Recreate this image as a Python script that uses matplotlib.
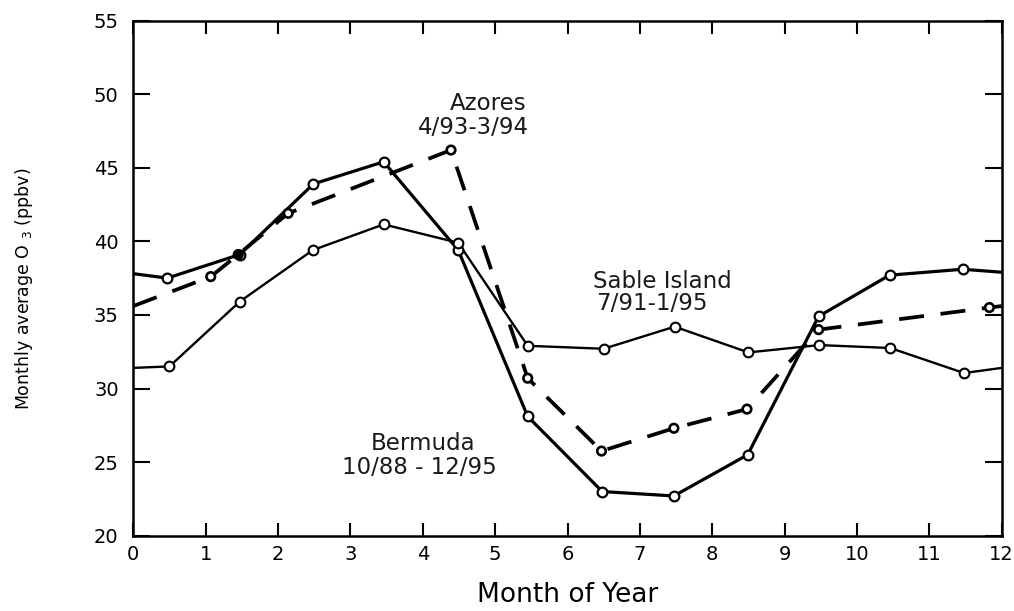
import matplotlib
matplotlib.use("Agg")
import matplotlib.pyplot as plt

plt.rcParams['font.family'] = ['DejaVu Sans']
plt.rcParams['mathtext.fontset'] = 'dejavusans'
plt.rcParams['lines.scale_dashes'] = False

# ---- data ----
bermuda_x = [0, 0.47, 1.47, 2.49, 3.46, 4.49, 5.45, 6.48, 7.47, 8.49, 9.47, 10.45, 11.46, 12]
bermuda_y = [37.8, 37.5, 39.1, 43.9, 45.4, 39.4, 28.1, 23.0, 22.7, 25.5, 34.9, 37.7, 38.1, 37.9]

sable_x = [0, 0.5, 1.47, 2.48, 3.46, 4.49, 5.45, 6.5, 7.48, 8.5, 9.48, 10.46, 11.48, 12]
sable_y = [31.4, 31.5, 35.9, 39.4, 41.15, 39.9, 32.9, 32.7, 34.2, 32.45, 32.95, 32.75, 31.05, 31.4]

azores_x = [0, 1.07, 1.45, 2.14, 4.39, 5.45, 6.47, 7.47, 8.48, 9.47, 11.83, 12]
azores_y = [35.6, 37.6, 39.1, 41.9, 46.2, 30.7, 25.75, 27.3, 28.6, 34.0, 35.5, 35.6]
azores_filled = [False, False, True, False, False, False, False, False, False, False, False, False]

x_ticks = list(range(0, 13))
y_ticks = [20, 25, 30, 35, 40, 45, 50, 55]

labels = [
    ("Azores", 488, 104),
    ("4/93-3/94", 473, 127),
    ("Sable Island", 662, 282),
    ("7/91-1/95", 652, 304),
    ("Bermuda", 423, 444),
    ("10/88 - 12/95", 419, 467),
]

W, H = 1014, 611
fig = plt.figure(figsize=(W / 100, H / 100), dpi=100)
L, R, T, B = 133.3, 1001.7, 20.5, 535.7
ax = fig.add_axes([L / W, 1 - B / H, (R - L) / W, (B - T) / H])

# lines
ax.plot(bermuda_x, bermuda_y, color='black', lw=2.3, zorder=2, solid_joinstyle='round')
ax.plot(sable_x, sable_y, color='black', lw=1.7, zorder=2, solid_joinstyle='round')
ax.plot(azores_x, azores_y, color='black', lw=2.7, zorder=2, dashes=(18, 12))

# markers (interior points only)
ax.plot(bermuda_x[1:-1], bermuda_y[1:-1], ls='none', marker='o', ms=7,
        mfc='white', mec='black', mew=1.6, zorder=4)
ax.plot(sable_x[1:-1], sable_y[1:-1], ls='none', marker='o', ms=7,
        mfc='white', mec='black', mew=1.5, zorder=4)
afc = ['black' if f else 'white' for f in azores_filled]
ax.scatter(azores_x[1:-1], azores_y[1:-1], s=38, marker='o', facecolors=afc[1:-1],
           edgecolors='black', linewidths=1.9, zorder=5)

ax.set_xlim(0, 12)
ax.set_ylim(20, 55)
ax.set_xticks(x_ticks)
ax.set_yticks(y_ticks)
ax.tick_params(axis='both', which='major', direction='in', top=True, right=True,
               width=1.5, labelsize=14, colors='black')
ax.tick_params(axis='y', length=12, pad=10.5)
ax.tick_params(axis='x', length=9.5, pad=7)
for s in ax.spines.values():
    s.set_linewidth(1.8)

ax.set_xlabel("Month of Year", fontsize=19)
ax.xaxis.set_label_coords(0.5, (B - 595) / (B - T))
ax.xaxis.label.set_va('center')
ax.set_ylabel(r"Monthly average O $_{3}$ (ppbv)", fontsize=12.5)
ax.yaxis.set_label_coords((24 - L) / (R - L), 0.48)
ax.yaxis.label.set_va('center')

for txt, px, py in labels:
    ax.text((px - L) / (R - L), (B - py) / (B - T), txt, transform=ax.transAxes,
            ha='center', va='center', fontsize=16.5, color='#1a1a1a')

fig.savefig("out.png", dpi=100)
